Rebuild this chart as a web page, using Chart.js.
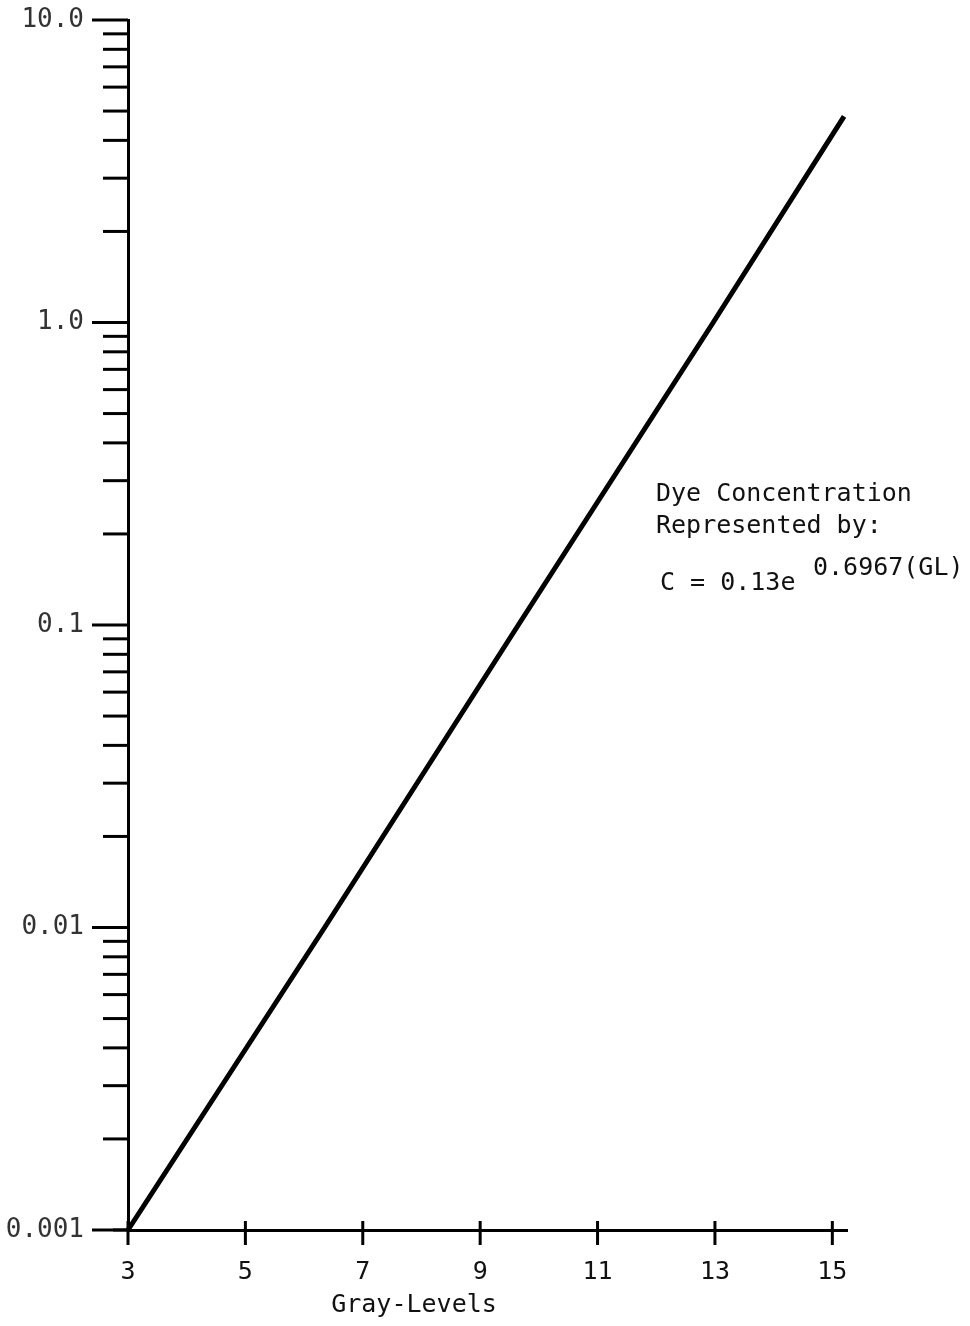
<!DOCTYPE html>
<html>
<head>
<meta charset="utf-8">
<script src="https://cdn.jsdelivr.net/npm/chart.js@4.4.1/dist/chart.umd.min.js"></script>
<style>
  body { margin: 0; background: #fff; }
  canvas { display: block; }
</style>
</head>
<body>
<canvas id="chart" width="970" height="1326"></canvas>
<script>
// values
const xTicks = [3, 5, 7, 9, 11, 13, 15];
const yMajorTicks = [0.001, 0.01, 0.1, 1, 10];
const yTickLabels = ["0.001", "0.01", "0.1", "1.0", "10.0"];
const grayLevels = [3, 6.35, 9.65, 12.97, 15.2];
const concentration = [0.001, 0.01, 0.1, 1.0, 4.8];

const noteLines = ["Dye Concentration", "Represented by:"];
const formulaBase = "C = 0.13e";
const formulaExp = "0.6967(GL)";
const xTitle = "Gray-Levels";

const monoFont = "25px 'DejaVu Sans Mono'";

// tick marks, axis title and the note are drawn here
const drawExtras = {
  id: "drawExtras",
  afterDraw(chart) {
    const { ctx, chartArea, scales } = chart;
    const x = scales.x, y = scales.y;
    const line = (x1, y1, x2, y2) => {
      ctx.beginPath();
      ctx.moveTo(x1, y1);
      ctx.lineTo(x2, y2);
      ctx.stroke();
    };
    ctx.save();
    ctx.strokeStyle = "#000";
    ctx.lineWidth = 3;
    y.ticks.forEach((t) => {
      const py = y.getPixelForValue(t.value);
      const len = t.major ? 36 : 25;
      line(chartArea.left - len, py, chartArea.left, py);
    });
    x.ticks.forEach((t) => {
      const px = x.getPixelForValue(t.value);
      line(px, chartArea.bottom - 9, px, chartArea.bottom + 15);
    });
    line(chartArea.left - 15, chartArea.bottom, chartArea.left, chartArea.bottom);

    ctx.fillStyle = "#111";
    ctx.font = monoFont;
    ctx.textBaseline = "middle";
    ctx.textAlign = "center";
    ctx.fillText(xTitle, 414, 1305);

    ctx.textAlign = "left";
    ctx.fillText(noteLines[0], 656, 494);
    ctx.fillText(noteLines[1], 656, 526);
    ctx.fillText(formulaBase, 660, 583);
    ctx.fillText(formulaExp, 813, 568);
    ctx.restore();
  },
};

new Chart(document.getElementById("chart"), {
  type: "line",
  plugins: [drawExtras],
  data: {
    datasets: [
      {
        data: grayLevels.map((g, i) => ({ x: g, y: concentration[i] })),
        borderColor: "#000",
        borderWidth: 5,
        pointRadius: 0,
        tension: 0,
        clip: false,
      },
    ],
  },
  options: {
    responsive: false,
    animation: false,
    layout: { padding: { top: 20, right: 123, left: 0, bottom: 0 } },
    plugins: {
      legend: { display: false },
      tooltip: { enabled: false },
    },
    scales: {
      x: {
        type: "linear",
        min: 3,
        max: 15.25,
        afterBuildTicks: (scale) => {
          scale.ticks = xTicks.map((v) => ({ value: v }));
        },
        afterFit: (scale) => {
          scale.height = 96;
        },
        grid: { display: false, drawTicks: false },
        border: { display: true, color: "#000", width: 3 },
        ticks: {
          autoSkip: false,
          maxRotation: 0,
          padding: 27,
          color: "#111",
          font: { family: "'DejaVu Sans Mono'", size: 25 },
          callback: (v) => String(v),
        },
      },
      y: {
        type: "logarithmic",
        min: 0.001,
        max: 10,
        afterBuildTicks: (scale) => {
          const ticks = [];
          for (let i = 0; i < yMajorTicks.length - 1; i++) {
            for (let m = 1; m <= 9; m++) {
              ticks.push({ value: yMajorTicks[i] * m, major: m === 1 });
            }
          }
          ticks.push({ value: yMajorTicks[yMajorTicks.length - 1], major: true });
          scale.ticks = ticks;
        },
        afterFit: (scale) => {
          scale.width = 128;
        },
        // invisible tick marks just push the labels away from the axis
        grid: {
          display: true,
          drawOnChartArea: false,
          drawTicks: true,
          tickLength: 40,
          tickColor: "rgba(0,0,0,0)",
        },
        border: { display: true, color: "#000", width: 3 },
        ticks: {
          autoSkip: false,
          padding: 4,
          color: "#333",
          font: { family: "'DejaVu Sans Mono'", size: 26 },
          callback: (v) => {
            const i = yMajorTicks.indexOf(v);
            return i >= 0 ? yTickLabels[i] : "";
          },
        },
      },
    },
  },
});
</script>
</body>
</html>
